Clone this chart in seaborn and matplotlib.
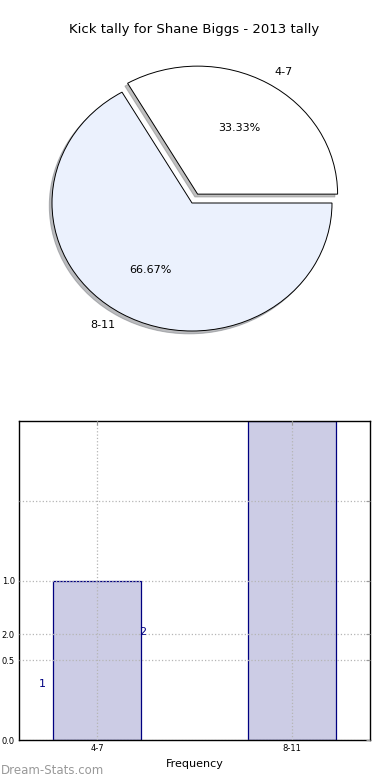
import matplotlib
matplotlib.use("Agg")
import matplotlib.pyplot as plt
import seaborn as sns
import pandas as pd

# ---- data ----
categories = ["4-7", "8-11"]
counts = [1, 2]
pie_colors = ["#ffffff", "#ebf1fd"]
explode = [0.08, 0.0]
ytick_values = [0.0, 0.5, 0.6625, 1.0, 1.5]
ytick_labels = ["0.0", "0.5", "2.0", "1.0", ""]
title = "Kick tally for Shane Biggs - 2013 tally"

sns.set_style("white")
plt.rcParams["font.family"] = ["DejaVu Sans"]
plt.rcParams["text.color"] = "black"
plt.rcParams["axes.labelcolor"] = "black"

W, H = 390, 780
fig = plt.figure(figsize=(W / 100, H / 100), dpi=100)

def px_axes(left, top, right, bottom):
    return fig.add_axes([left / W, 1 - bottom / H, (right - left) / W, (bottom - top) / H])

# ---- pie ----
axp = px_axes(17, 58, 367, 348)
axp.pie(counts, labels=categories, colors=pie_colors, explode=explode,
        autopct="%.2f%%", startangle=0,
        shadow=dict(ox=-0.014, oy=-0.016, shade=0.5),
        wedgeprops=dict(edgecolor="black", linewidth=0.7),
        textprops=dict(fontsize=8, color="black"))
axp.set_aspect("auto")
axp.set_xlim(-1.25, 1.25)
axp.set_ylim(-145 / 128, 145 / 128)
axp.axis("off")
fig.text(194 / W, 1 - 30 / H, title, ha="center", va="center", fontsize=9.5, color="black")

# ---- bars ----
axb = px_axes(19, 421, 370, 740)
df = pd.DataFrame({"cat": categories, "n": counts})
sns.barplot(data=df, x="cat", y="n", ax=axb, width=0.45, color="#ccccE5",
            saturation=1, edgecolor="navy", linewidth=0.9)
axb.set_xlim(-0.4, 1.4)
axb.set_ylim(0, 2)
axb.set_yticks(ytick_values)
axb.set_yticklabels(ytick_labels)
axb.set_xlabel("Frequency", fontsize=8, color="black")
axb.set_ylabel("")
axb.grid(True, color="#b5b5b5", linestyle=":", linewidth=0.9)
axb.set_axisbelow(False)
axb.tick_params(direction="in", length=3, labelsize=6, color="#999999",
                labelcolor="black", top=True, right=True, pad=3)
for s in axb.spines.values():
    s.set_color("black")
    s.set_linewidth(1)
axb.text(-0.28, 0.35, str(counts[0]), color="navy", fontsize=8, ha="center", va="center")
axb.text(0.236, 0.68, str(counts[1]), color="navy", fontsize=8, ha="center", va="center")

fig.text(1 / W, 1 - 770 / H, "Dream-Stats.com", color="#999999", fontsize=8.5,
         ha="left", va="center")

fig.savefig("out.png", dpi=100)
